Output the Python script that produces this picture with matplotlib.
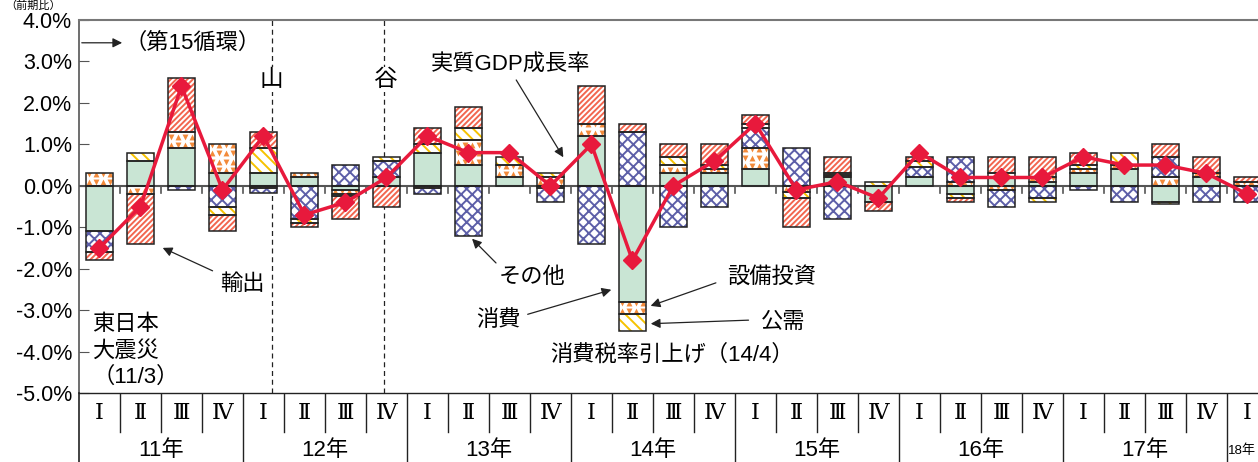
import matplotlib
matplotlib.use("Agg")
import matplotlib.pyplot as plt
import numpy as np

plt.rcParams['font.family'] = ['Liberation Sans', 'Noto Sans CJK JP', 'DejaVu Sans']
plt.rcParams['hatch.linewidth'] = 1.4

# 実質GDP成長率と寄与度（前期比, %）, 2011Q1 - 2018Q1
quarters = ["Ⅰ", "Ⅱ", "Ⅲ", "Ⅳ"] * 7 + ["Ⅰ"]
years = ["11年", "12年", "13年", "14年", "15年", "16年", "17年"]

consumption = [-1.1, 0.6, 0.9, 0.3, 0.3, 0.2, -0.1, 0.2, 0.8, 0.5, 0.2, -0.05, 1.2, -2.8,
               0.3, 0.3, 0.4, 0.0, 0.2, -0.4, 0.2, -0.2, 0.2, 0.1, 0.3, 0.4, -0.4, 0.2, 0.0]
capex = [0.3, -0.2, 0.4, 0.7, -0.05, 0.1, -0.1, 0.0, -0.05, 0.6, 0.3, 0.2, 0.3, -0.3,
         0.2, 0.1, 0.5, -0.15, 0.05, 0.0, 0.0, 0.1, -0.1, 0.1, 0.1, 0.1, 0.2, 0.1, 0.1]
others = [-0.5, 0.0, -0.1, -0.5, -0.13, -0.8, 0.5, 0.4, -0.15, -1.2, 0.0, -0.35, -1.4, 1.3,
          -1.0, -0.5, 0.5, 0.9, -0.8, 0.0, 0.25, 0.6, -0.4, -0.3, -0.1, -0.4, 0.5, -0.4, -0.4]
public = [0.0, 0.2, 0.0, -0.2, 0.6, -0.1, -0.05, 0.1, 0.2, 0.3, 0.2, 0.1, 0.0, -0.4,
          0.2, 0.1, 0.1, -0.15, 0.05, 0.1, 0.15, -0.1, 0.1, -0.1, 0.1, 0.3, -0.05, 0.0, 0.0]
exports = [-0.2, -1.2, 1.3, -0.4, 0.4, -0.1, -0.55, -0.5, 0.4, 0.5, 0.0, 0.0, 0.9, 0.2,
           0.3, 0.5, 0.2, -0.7, 0.4, -0.2, 0.1, -0.1, 0.4, 0.5, 0.3, 0.0, 0.3, 0.4, 0.1]
gdp = [-1.5, -0.5, 2.4, -0.1, 1.2, -0.7, -0.4, 0.2, 1.2, 0.8, 0.8, 0.0, 1.0, -1.8,
       0.0, 0.6, 1.5, -0.1, 0.1, -0.3, 0.8, 0.2, 0.2, 0.2, 0.7, 0.5, 0.5, 0.3, -0.2]

n = len(gdp)
x = np.arange(n)
w = 0.66
xmax = 28.26

W, H = 1258, 462
fig = plt.figure(figsize=(W / 100, H / 100), dpi=100)
ax = fig.add_axes([79 / W, 69 / H, 1 - 79 / W, 373 / H])

series = [
    (consumption, "#c9e5d4", None, None),
    (capex, "white", None, "tri"),
    (others, "white", "xxx", "#5d5fa8"),
    (public, "white", "\\\\\\", "#f6c200"),
    (exports, "white", "//////", "#f2664f"),
]

pos = np.zeros(n)
neg = np.zeros(n)
for vals, fc, hatch, hc in series:
    v = np.array(vals, dtype=float)
    for i in range(n):
        if v[i] == 0:
            continue
        b = pos[i] if v[i] > 0 else neg[i]
        if hc == "tri":
            rect = ax.bar(x[i], v[i], w, bottom=b, color="white", linewidth=0, zorder=2)[0]
            lo, hi = sorted([b, b + v[i]])
            ys = np.arange(lo + 0.08, hi + 0.2, 0.2)
            xs = np.arange(x[i] - w / 2 + 0.08, x[i] + w / 2 + 0.1, 0.17)
            for r, yy in enumerate(ys):
                for c, xx in enumerate(xs):
                    m = "^" if (r + c) % 2 == 0 else "v"
                    sc = ax.scatter([xx], [yy], marker=m, s=18, color="#f28a3a",
                                    linewidths=0, zorder=2.2)
                    sc.set_clip_path(rect)
        else:
            ax.bar(x[i], v[i], w, bottom=b, color=fc, edgecolor=hc if hc else fc,
                   hatch=hatch, linewidth=0, zorder=2)
        ax.bar(x[i], v[i], w, bottom=b, fill=False, edgecolor="#222222",
               linewidth=1.1, zorder=3)
    pos += np.where(v > 0, v, 0)
    neg += np.where(v < 0, v, 0)

ax.axhline(0, color="#555555", lw=1.5, zorder=2.5)
for bnd in np.arange(0.5, n - 0.5, 1):
    ax.plot([bnd, bnd], [0, -0.17], color="#555555", lw=1.2, zorder=2.5)

ax.plot(x, gdp, color="#e8193c", lw=2.5, marker="D", ms=9, zorder=5)

# 景気の山・谷
ax.axvline(4.2, color="#222222", lw=0.9, ls=(0, (4, 3)), zorder=1)
ax.axvline(6.95, color="#222222", lw=0.9, ls=(0, (4, 3)), zorder=1)
ax.text(4.2, 2.56, "山", fontsize=17, ha="center", va="center",
        bbox=dict(facecolor="white", edgecolor="none", pad=1), zorder=1.5)
ax.text(6.95, 2.56, "谷", fontsize=17, ha="center", va="center",
        bbox=dict(facecolor="white", edgecolor="none", pad=1), zorder=1.5)

fs = 16
arrow = dict(arrowstyle="-|>", color="#222222", lw=0.9, mutation_scale=14)
ax.annotate("", xy=(0.62, 3.45), xytext=(-0.5, 3.45), arrowprops=arrow)
ax.text(0.6, 3.45, "（第15循環）", fontsize=fs, ha="left", va="center")

ax.text(10.04, 2.92, "実質GDP成長率", fontsize=fs, ha="center", va="center")
ax.annotate("", xy=(11.35, 0.63), xytext=(10.13, 2.61), arrowprops=arrow)

ax.text(3.48, -2.39, "輸出", fontsize=fs, ha="center", va="center")
ax.annotate("", xy=(1.48, -1.47), xytext=(2.82, -2.08), arrowprops=arrow)

ax.text(10.55, -2.22, "その他", fontsize=fs, ha="center", va="center")
ax.annotate("", xy=(9.04, -1.23), xytext=(9.72, -1.91), arrowprops=arrow)

ax.text(9.72, -3.24, "消費", fontsize=fs, ha="center", va="center")
ax.annotate("", xy=(12.55, -2.49), xytext=(10.38, -3.12), arrowprops=arrow)

ax.text(16.4, -2.2, "設備投資", fontsize=fs, ha="center", va="center")
ax.annotate("", xy=(13.38, -2.92), xytext=(15.1, -2.32), arrowprops=arrow)

ax.text(16.67, -3.29, "公需", fontsize=fs, ha="center", va="center")
ax.annotate("", xy=(13.38, -3.33), xytext=(15.9, -3.24), arrowprops=arrow)

ax.text(13.96, -4.08, "消費税率引上げ（14/4）", fontsize=fs, ha="center", va="center")
ax.text(-0.18, -3.1, "東日本\n大震災\n（11/3）", fontsize=fs, ha="left", va="top",
        linespacing=1.32)

ax.set_xlim(-0.5, xmax)
ax.set_ylim(-5, 4)
yt = np.arange(-5, 5, 1)
ax.set_yticks(yt)
ax.set_yticklabels([f"{v:.1f}%" for v in yt], fontsize=15.5)
ax.set_xticks([])
ax.tick_params(axis="y", direction="in", length=7, color="#555555", pad=5)
ax.spines["right"].set_visible(False)
ax.spines["left"].set_color("#555555")
ax.spines["left"].set_linewidth(1.2)
ax.spines["top"].set_color("#777777")
ax.spines["top"].set_linewidth(1.5)
ax.spines["bottom"].set_color("#222222")
ax.spines["bottom"].set_linewidth(1.0)

fig.text(5 / W, 1.0, "（前期比）", fontsize=8, ha="left", va="top")

# 下部の四半期・年ラベル
tb = fig.add_axes([79 / W, 0, 1 - 79 / W, 69 / H])
tb.set_xlim(-0.5, xmax)
tb.set_ylim(0, 1)
tb.axis("off")
tb.plot([-0.5, -0.5], [0, 1], color="#222222", lw=1.2, clip_on=False)
for i in range(1, n):
    bnd = i - 0.5
    if i % 4 == 0:
        tb.plot([bnd, bnd], [0, 1], color="#222222", lw=1.0)
    else:
        tb.plot([bnd, bnd], [0.435, 1], color="#222222", lw=1.0)
for i, q in enumerate(quarters):
    tb.text(x[i], 0.71, q, fontsize=16, ha="center", va="center",
            family=["DejaVu Serif", "Noto Sans CJK JP"])
for k, yl in enumerate(years):
    tb.text(4 * k + 1.5, 0.17, yl, fontsize=16, ha="center", va="center")
tb.text(27.53, 0.17, "18年", fontsize=9.5, ha="left", va="center")

fig.savefig("out.png", dpi=100)
